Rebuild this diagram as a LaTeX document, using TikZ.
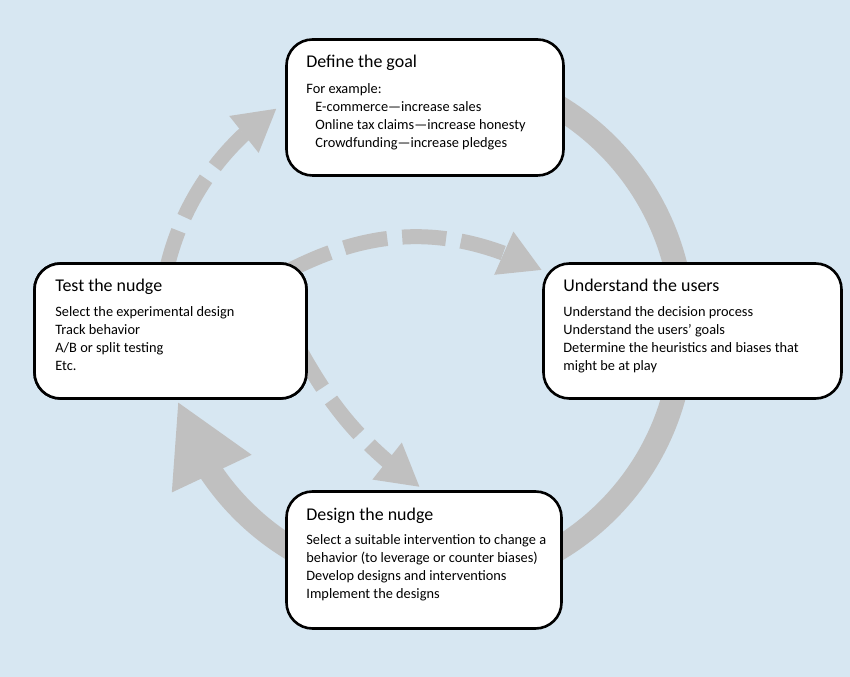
\documentclass[tikz,border=0pt]{standalone}
\usepackage{fontspec}
\setmainfont{Carlito}
\usepackage{xcolor}
\usepackage{tikz}
\usetikzlibrary{arrows.meta, calc, bending}
\definecolor{BgBlue}{RGB}{215,231,242}
\definecolor{LoopGray}{RGB}{192,192,192}

\begin{document}
\begin{tikzpicture}[x = 1bp, y = 1bp, style = {line cap = butt},
  stepbox/.style = {draw = black, line width = 2.6bp, fill = white, rounded corners = 26bp, inner sep = 0pt},
  heading/.style = {anchor = base west, inner sep = 0pt, font = \fontsize{18}{21}\selectfont},
  body/.style = {anchor = north west, inner sep = 0pt, align = left, font = \fontsize{14.4}{18}\selectfont},
  cycle/.style = {line width = 24bp, LoopGray},
  hint/.style = {line width = 15bp, LoopGray, dash pattern = on 44bp off 15bp}]

  \fill[BgBlue] (0,0) rectangle (850,677);
  \useasboundingbox (0,0) rectangle (850,677);

  \coordinate (hub) at (425,349);

  % the main loop, under the boxes
  \draw[cycle, -{Triangle[length = 80bp, width = 82bp]}] ($(hub)+(80:258)$) arc[start angle = 80, end angle = -163.5, radius = 258];
  \draw[hint, -{Triangle[length = 42bp, width = 44bp]}] ($(hub)+(168:265)$) arc[start angle = 168, end angle = 124, radius = 265];

  \node[stepbox, minimum width = 277bp, minimum height = 136bp] (goal) at (425,569.5) {};
  \node[stepbox, minimum width = 272bp, minimum height = 135bp] (test) at (170.5,346) {};
  \node[stepbox, minimum width = 298bp, minimum height = 135bp] (users) at (692.5,346) {};
  \node[stepbox, minimum width = 275bp, minimum height = 137bp] (design) at (424,117) {};

  % shortcuts from testing
  \draw[hint, -{Triangle[length = 42bp, width = 44bp]}] ($(test.north east)+(-18,-8)$) to[bend left = 27] ($(users.north west)+(0,-8)$);
  \draw[hint, -{Triangle[length = 42bp, width = 44bp]}] ($(test.east)+(-8,-19)$) to[bend right = 12] ($(design.north)+(-4,3)$);

  % redraw the test box over the start of its arrows
  \node[stepbox, minimum width = 272bp, minimum height = 135bp] (test-top) at (test) {};

  \node[heading] (goal-head) at ($(goal.north west)+(21,-29)$) {Define the goal};
  \node[body] (goal-text) at ($(goal.north west)+(21,-44)$) {\rule{0pt}{11bp}For example:\\
    \hspace*{9bp}E-commerce—increase sales\\
    \hspace*{9bp}Online tax claims—increase honesty\\
    \hspace*{9bp}Crowdfunding—increase pledges};

  \node[heading] (test-head) at ($(test.north west)+(22,-29)$) {Test the nudge};
  \node[body] (test-text) at ($(test.north west)+(22,-43)$) {\rule{0pt}{11bp}Select the experimental design\\
    Track behavior\\
    A/B or split testing\\
    Etc.};

  \node[heading] (users-head) at ($(users.north west)+(21,-29)$) {Understand the users};
  \node[body] (users-text) at ($(users.north west)+(21,-43)$) {\rule{0pt}{11bp}Understand the decision process\\
    Understand the users’ goals\\
    Determine the heuristics and biases that\\
    might be at play};

  \node[heading] (design-head) at ($(design.north west)+(21,-30)$) {Design the nudge};
  \node[body] (design-text) at ($(design.north west)+(21,-43)$) {\rule{0pt}{11bp}Select a suitable intervention to change a\\
    behavior (to leverage or counter biases)\\
    Develop designs and interventions\\
    Implement the designs};

\end{tikzpicture}
\end{document}
